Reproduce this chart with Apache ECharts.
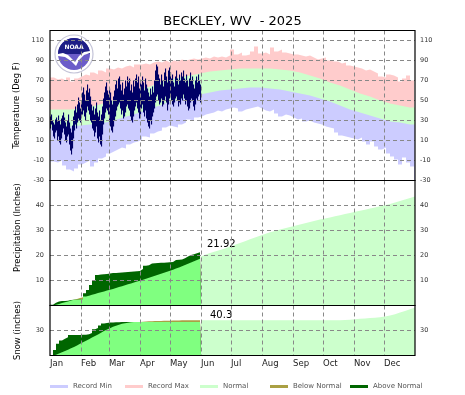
<!DOCTYPE html>
<html><head><meta charset="utf-8">
<script src="https://cdn.jsdelivr.net/npm/echarts@6/dist/echarts.min.js"></script>
<style>html,body{margin:0;padding:0;background:#fff}#c{width:465px;height:395px}</style>
</head><body><div id="c"></div>
<script>
// ---- categories / ticks ----
const monthNames = ['Jan','Feb','Mar','Apr','May','Jun','Jul','Aug','Sep','Oct','Nov','Dec'];
const monthStartDays = [0,31,59,90,120,151,181,212,243,273,304,334];
const legendNames = ['Record Min','Record Max','Normal','Below Normal','Above Normal'];

// ---- temperature (deg F) ----
// normals, sampled every 10 days (last point = day 365)
const normDays = [0,10,20,30,40,50,60,70,80,90,100,110,120,130,140,150,160,170,180,190,200,210,220,230,240,250,260,270,280,290,300,310,320,330,340,350,360,365];
const normHigh = [41,41,41,42,44,46,49,53,57,61,64,68,71,73,75,77,79,80,81,82,82,82,82,81,80,78,75,72,68,65,61,57,54,50,47,45,43,43];
const normLow  = [23,23,24,25,26,27,29,32,35,38,42,45,49,51,54,56,58,60,61,62,63,63,62,61,59,57,55,52,49,45,41,38,35,32,29,28,26,26];
// record extremes, every 4 days from Jan 1
const recMax = [73,71,72,70,73,69,72,74,76,75,78,76,80,78,82,81,83,82,84,85,83,86,86,87,86,88,89,88,90,88,90,89,91,90,91,92,91,92,93,92,94,93,94,93,95,101,96,98,95,96,99,104,97,98,96,103,99,101,98,97,96,96,95,94,95,93,91,92,93,90,89,89,87,88,85,84,83,82,80,81,79,77,74,73,76,75,73,69,72,75,70,71];
const recMin = [-11,-12,-10,-15,-19,-21,-18,-14,-12,-10,-16,-12,-8,-6,-3,-1,1,3,2,6,8,9,11,14,13,17,19,20,23,25,24,23,26,28,31,30,33,34,36,37,38,40,39,41,42,43,42,39,41,42,43,44,42,40,39,41,37,34,36,35,33,31,32,29,30,28,27,26,24,23,22,18,15,14,13,12,11,13,9,6,9,4,1,3,-3,-6,-9,-14,-7,-12,-16,-19];
// observed 2025 daily high / low, Jan 1 .. May 31
const obsHigh = [34,36,30,28,26,31,33,29,35,30, 26,32,35,38,33,28,24,30,36,28, 22,18,25,34,40,44,38,46,53,48,
 42,50,58,63,56,50,60,66,58,62, 54,46,40,44,36,42,48,38,34,40, 30,36,44,52,58,64,68,60,56,62,
 58,50,46,54,60,66,70,62,72,74, 66,60,68,56,62,70,64,74,68,72, 60,66,58,70,64,72,76,68,74,62,
 70,66,74,68,60,72,66,62,58,54, 62,56,64,58,70,80,86,84,76,72, 66,76,70,64,78,82,74,68,80,83,
 78,72,76,68,64,74,80,72,66,76, 70,78,74,80,72,68,76,70,64,72, 78,70,74,66,62,70,74,68,76,70,66];
const obsLow = [22,26,20,14,12,18,20,10,14,8, 6,12,18,22,16,10,8,14,16,6, 0,-4,2,12,20,26,22,28,32,30,
 28,34,36,40,34,30,38,44,40,36, 30,28,22,20,14,18,24,12,8,14, 6,4,16,26,32,38,42,40,36,28,
 24,20,18,24,30,34,40,44,46,48, 42,36,40,32,34,38,44,46,42,40, 34,30,28,34,40,44,48,42,38,32,
 36,42,46,38,34,40,32,28,24,22, 30,26,34,38,42,48,54,56,50,46, 48,52,44,46,50,54,48,40,46,52,
 56,50,46,44,48,52,54,50,44,48, 46,52,50,56,52,46,50,44,40,42, 48,52,50,44,40,46,52,50,54,56,48];

// ---- precipitation & snow (cumulative inches) ----
const ytdDays = [0,3,6,9,12,15,18,21,24,27,30,33,36,39,42,45,48,51,54,57,60,63,66,69,72,75,78,81,84,87,90,93,96,99,102,105,108,111,114,117,120,123,126,129,132,135,138,141,144,147,150,151];
const precipObs = [0.3,1.1,1.6,1.8,1.8,1.9,2.2,2.3,2.3,2.4,2.5,
 4.9,6.2,8.2,9.8,12.2,12.4,12.5,12.6,12.8,13.0,
 13.0,13.1,13.2,13.3,13.4,13.5,13.6,13.7,13.8,14.6,
 15.9,16.1,16.8,16.9,17.0,17.1,17.1,17.2,17.3,17.4,
 18.2,18.3,18.4,18.9,19.6,20.2,20.5,20.9,21.3,21.7,21.92];
const precipNormal = [0.0,0.3,0.6,1.0,1.3,1.6,2.0,2.3,2.6,3.0,3.3,
 3.6,3.9,4.3,4.6,5.0,5.3,5.6,6.0,6.3,6.6,
 7.0,7.4,7.7,8.1,8.5,8.8,9.2,9.6,9.9,10.3,
 10.7,11.1,11.5,11.9,12.3,12.7,13.1,13.5,13.9,14.3,
 14.8,15.2,15.7,16.2,16.7,17.2,17.7,18.2,18.7,19.2,19.4];
const snowObs = [0.5,6.6,14.0,18.0,20.0,22.0,24.5,24.6,24.6,24.7,24.8,
 25.0,25.5,27.0,31.5,33.0,36.0,38.5,39.0,39.5,39.6,
 39.8,40.0,40.1,40.2,40.3,40.3,40.3,40.3,40.3,40.3,
 40.3,40.3,40.3,40.3,40.3,40.3,40.3,40.3,40.3,40.3,
 40.3,40.3,40.3,40.3,40.3,40.3,40.3,40.3,40.3,40.3,40.3];
const snowNormal = [0,1.0,2.5,4.0,5.5,7.0,8.6,10.2,12.0,14.0,16.0,
 17.8,19.6,21.5,23.3,25.2,27.2,29.4,31.2,32.8,34.4,
 35.6,36.8,38.0,38.8,39.4,39.8,40.1,40.25,40.3,40.5,
 40.8,41.0,41.2,41.3,41.4,41.5,41.6,41.7,41.8,41.9,
 42.0,42.1,42.2,42.3,42.4,42.4,42.4,42.4,42.4,42.4,42.4];
const restDays = [151,155,160,165,170,175,180,185,190,195,200,205,210,215,220,225,230,235,240,245,250,255,260,265,270,275,280,285,290,295,300,305,310,315,320,325,330,335,340,345,350,355,360,365];
const precipNormalRest = [19.6,20.3,21.0,21.6,22.2,22.8,23.6,24.3,25.0,25.7,26.5,27.2,27.9,28.6,29.3,29.8,30.4,30.9,31.4,31.9,32.4,32.9,33.4,33.9,34.4,34.8,35.2,35.7,36.1,36.6,37.0,37.5,37.9,38.3,38.8,39.2,39.7,40.1,40.6,41.2,41.8,42.4,43.0,43.6];
const snowNormalRest = [42.4,42.4,42.4,42.4,42.4,42.4,42.4,42.4,42.4,42.4,42.4,42.4,42.4,42.4,42.4,42.4,42.4,42.4,42.4,42.4,42.4,42.4,42.4,42.4,42.4,42.4,42.4,42.4,42.4,42.5,42.8,43.5,44.0,44.5,45.0,45.4,46.0,46.8,48.0,49.5,51.5,53.5,55.5,57.5];

// ---- helpers ----
const zip = (xs, ys) => xs.map((x, i) => [x, ys[i]]);
const recDays = recMax.map((_, i) => i * 4);
const obsDays = obsHigh.map((_, i) => i);

const FONT = 'DejaVu Sans';
const C = {
  recMin: '#ccccff', recMax: '#ffcccc', normal: '#ccffcc', below: '#aaa044',
  above: '#006600', ytdNormal: '#80ff80', obs: '#000066'
};
const legendColors = [C.recMin, C.recMax, C.normal, C.below, C.above];

const gridLine = { show: true, lineStyle: { color: '#888', type: [4, 3], width: 1 } };
const monthGrid = monthStartDays.slice(1);

function xAxisFor(gi, showLabels) {
  return {
    type: 'value', gridIndex: gi, min: 0, max: 365, z: 15,
    axisLine: { show: false },
    axisTick: { show: false, customValues: monthGrid },
    splitLine: gridLine,
    axisLabel: showLabels ? {
      show: true, customValues: monthStartDays, align: 'left', margin: 4,
      fontSize: 8.5, color: '#222', fontFamily: FONT,
      formatter: v => monthNames[monthStartDays.indexOf(v)]
    } : { show: false }
  };
}
function yAxisPair(gi, min, max, interval, name, extra) {
  const base = {
    type: 'value', gridIndex: gi, min, max, interval, z: 15,
    axisLine: { show: false }, axisTick: { show: false }
  };
  const lab = { fontSize: 6.5, color: '#333', fontFamily: FONT,
    showMinLabel: extra.showMin, showMaxLabel: false };
  return [
    Object.assign({}, base, {
      position: 'left', splitLine: gridLine,
      axisLabel: Object.assign({ margin: 6 }, lab),
      name, nameLocation: 'middle', nameGap: extra.nameGap,
      nameTextStyle: { fontSize: 8.4, color: '#000', fontFamily: FONT, padding: extra.namePad || 0 }
    }),
    Object.assign({}, base, {
      position: 'right', splitLine: { show: false },
      axisLabel: Object.assign({ margin: 5 }, lab)
    })
  ];
}

function area(name, data, color, xi, yi, opts) {
  return Object.assign({
    type: 'line', name, data, xAxisIndex: xi, yAxisIndex: yi,
    symbol: 'none', showSymbol: false, silent: true,
    color, itemStyle: { color },
    lineStyle: { width: 0, opacity: 0 },
    areaStyle: { color, opacity: 1, origin: 'start' }
  }, opts || {});
}

const precipMin = precipObs.map((v, i) => Math.min(v, precipNormal[i]));
const snowMin = snowObs.map((v, i) => Math.min(v, snowNormal[i]));

const totalLabel = (offset) => ({
  show: true, formatter: p => String(p.value[1]), distance: 5, offset,
  fontSize: 10, color: '#000', fontFamily: FONT
});

const series = [
  // temperature bands
  area('Record Max', zip(recDays, recMax), C.recMax, 0, 0, { step: 'end' }),
  area('Normal', zip(normDays, normHigh), C.normal, 0, 0),
  area('Record Min', zip(normDays, normLow), C.recMin, 0, 0),
  area('', zip(recDays, recMin), '#ffffff', 0, 0, { step: 'end' }),
  {
    type: 'custom', xAxisIndex: 0, yAxisIndex: 0, silent: true, z: 3,
    data: obsDays.map((d, i) => [d, obsLow[i], obsHigh[i]]),
    encode: { x: 0, y: [1, 2] },
    renderItem: (params, api) => {
      const top = api.coord([api.value(0), api.value(2)]);
      const bot = api.coord([api.value(0), api.value(1)]);
      return { type: 'rect', shape: { x: top[0], y: top[1], width: 1.1, height: bot[1] - top[1] },
        style: { fill: C.obs } };
    }
  },
  // precipitation
  area('Normal', zip(restDays, precipNormalRest), C.normal, 1, 2),
  area('Below Normal', zip(ytdDays, precipNormal), C.below, 1, 2, { step: 'end' }),
  area('Above Normal', zip(ytdDays, precipObs), C.above, 1, 2, { step: 'end', endLabel: totalLabel([1, -6]) }),
  area('', zip(ytdDays, precipMin), C.ytdNormal, 1, 2, { step: 'end' }),
  // snow
  area('Normal', zip(restDays, snowNormalRest), C.normal, 2, 4),
  area('Below Normal', zip(ytdDays, snowNormal), C.below, 2, 4, { step: 'end' }),
  area('Above Normal', zip(ytdDays, snowObs), C.above, 2, 4, { step: 'end', endLabel: totalLabel([4, -7]) }),
  area('', zip(ytdDays, snowMin), C.ytdNormal, 2, 4, { step: 'end' })
];

const legendLefts = [50, 125, 200, 270, 350];

const option = {
  animation: false,
  textStyle: { fontFamily: FONT },
  title: {
    text: 'BECKLEY, WV  - 2025', left: 'center', top: 10,
    textStyle: { fontSize: 13, fontWeight: 'normal', color: '#000', fontFamily: FONT }
  },
  grid: [
    { left: 50, width: 365, top: 30.5, height: 150, show: true, borderColor: '#000', borderWidth: 1.2, z: 20, backgroundColor: 'transparent' },
    { left: 50, width: 365, top: 180.5, height: 125, show: true, borderColor: '#000', borderWidth: 1.2, z: 20, backgroundColor: 'transparent' },
    { left: 50, width: 365, top: 305.5, height: 50, show: true, borderColor: '#000', borderWidth: 1.2, z: 20, backgroundColor: 'transparent' }
  ],
  xAxis: [xAxisFor(0, false), xAxisFor(1, false), xAxisFor(2, true)],
  yAxis: [].concat(
    yAxisPair(0, -30, 120, 20, 'Temperature (Deg F)', { showMin: true, nameGap: 28 }),
    yAxisPair(1, 0, 50, 10, 'Precipitation (Inches)', { showMin: false, nameGap: 28, namePad: [0, 0, 0, 31] }),
    yAxisPair(2, 0, 60, 30, 'Snow (inches)', { showMin: false, nameGap: 28 })
  ),
  legend: legendNames.map((n, i) => ({
    data: [{ name: n, icon: 'rect', itemStyle: { color: legendColors[i] } }],
    left: legendLefts[i], top: 383, padding: 0, itemWidth: 18, itemHeight: 3,
    selectedMode: false,
    textStyle: { fontSize: 7, color: '#555', fontFamily: FONT }
  })),
  graphic: [{
    type: 'group', x: 74, y: 54, z: 100, silent: true,
    children: [
      { type: 'circle', shape: { cx: 0, cy: 0, r: 19 }, style: { fill: '#ffffff', stroke: '#c4c4d8', lineWidth: 1.2 } },
      { type: 'circle', shape: { cx: 0, cy: 0, r: 16 }, style: { fill: '#6b5cc9' } },
      { type: 'sector', shape: { cx: 0, cy: 0, r0: 0, r: 16, startAngle: Math.PI, endAngle: 2 * Math.PI }, style: { fill: '#1e1e86' } },
      { type: 'polygon', shape: { points: [[-16,0],[-11,-1],[-6,1],[-2,5],[1,8],[5,2],[10,-2],[16,-3],[16,-1],[10,1],[5,6],[2,12],[-3,7],[-9,3],[-16,2]] }, style: { fill: '#ffffff' } },
      { type: 'text', style: { text: 'NOAA', x: 0, y: -7, fill: '#ffffff', font: 'bold 6px DejaVu Sans', align: 'center', verticalAlign: 'middle' } }
    ]
  }],
  series
};

const chart = echarts.init(document.getElementById('c'), null, { renderer: 'canvas' });
chart.setOption(option);
</script></body></html>
